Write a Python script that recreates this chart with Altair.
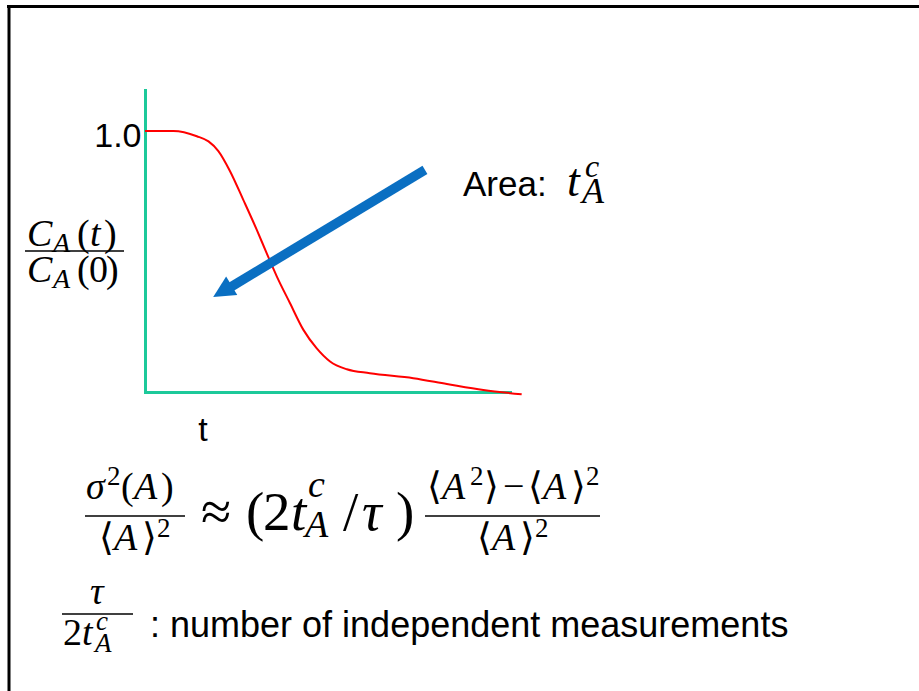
import altair as alt
import pandas as pd

# Normalised autocorrelation C_A(t)/C_A(0) along the decay
t_vals = [0.0, 0.78, 1.42, 1.74, 2.01, 2.33, 2.69, 3.06, 3.33, 3.61, 3.97,
          4.34, 4.70, 5.07, 5.53, 6.16, 7.35, 8.27, 9.27, 10.32]
ratio_vals = [1.0, 1.0, 0.98, 0.96, 0.923, 0.846, 0.737, 0.622, 0.533, 0.443,
              0.341, 0.238, 0.168, 0.117, 0.087, 0.072, 0.053, 0.031, 0.008, -0.009]
y_tick_values = [1.0]

x_label = "t"
area_label = "Area:"
caption = ": number of independent measurements"

# Arrow pointing into the area under the curve (tail -> end of shaft), data units
arrow_t = [7.67, 2.30]
arrow_r = [0.851, 0.398]
arrow_head_t = [2.15]
arrow_head_r = [0.388]

# ---- layout ----
X0, Y0, W, H = 145, 90, 365, 302
TEAL = "#1cc99a"
RED = "#ff0000"
BLUE = "#0a6fc2"
SANS = "Liberation Sans, Arial, sans-serif"
SERIF = "Liberation Serif, DejaVu Serif, DejaVu Sans, serif"

xs = alt.Scale(domain=[0, 10], nice=False, zero=False)
ys = alt.Scale(domain=[0, 1.157], nice=False, zero=False)

curve = alt.Chart(pd.DataFrame({"t": t_vals, "r": ratio_vals})).mark_line(
    color=RED, strokeWidth=2, interpolate="monotone", clip=False
).encode(
    x=alt.X("t:Q", scale=xs, axis=alt.Axis(
        title=None, labels=False, ticks=False, grid=False,
        domainColor=TEAL, domainWidth=3, domainCap="square")),
    y=alt.Y("r:Q", scale=ys, axis=alt.Axis(
        title=None, values=y_tick_values, format=".1f", ticks=False, grid=False,
        domainColor=TEAL, domainWidth=3, domainCap="square",
        labelFont=SANS, labelFontSize=34, labelColor="black",
        labelPadding=4, labelOffset=6)),
)

shaft = alt.Chart(pd.DataFrame({"t": arrow_t, "r": arrow_r})).mark_line(
    color=BLUE, strokeWidth=9.5, strokeCap="butt", clip=False
).encode(x="t:Q", y="r:Q")

head = alt.Chart(pd.DataFrame({"t": arrow_head_t, "r": arrow_head_r})).mark_point(
    shape="M0,-1L0.9,0.8L-0.9,0.8Z", filled=True, color=BLUE, opacity=1,
    size=576, angle=239, strokeWidth=0, clip=False
).encode(x="t:Q", y="r:Q")


def piece(s, x, y, size, italic=False, font=SERIF, align="left"):
    """One run of text, x/y in page pixels, y at the alphabetic baseline."""
    return alt.Chart(pd.DataFrame({"s": [s]})).mark_text(
        align=align, baseline="alphabetic", font=font, fontSize=size,
        fontStyle="italic" if italic else "normal", color="black"
    ).encode(x=alt.value(x - X0), y=alt.value(y - Y0), text="s:N")


def hline(x1, x2, y, width=1.6, color="black"):
    return alt.Chart(pd.DataFrame({"k": [0]})).mark_rule(
        color=color, strokeWidth=width
    ).encode(x=alt.value(x1 - X0), x2=alt.value(x2 - X0), y=alt.value(y - Y0))


def vline(x, y1, y2, width=3, color="black"):
    return alt.Chart(pd.DataFrame({"k": [0]})).mark_rule(
        color=color, strokeWidth=width
    ).encode(x=alt.value(x - X0), y=alt.value(y1 - Y0), y2=alt.value(y2 - Y0))


F, S, M = 38, 27, 55
layers = []

# C_A(t) / C_A(0)
layers += [
    piece("C", 27, 246, F, True), piece("A", 53, 252, 28, True),
    piece("(", 77, 246, F), piece("t", 90, 246, F, True), piece(")", 104, 246, F),
    hline(25, 124, 251),
    piece("C", 27, 282, F, True), piece("A", 53, 288, 28, True),
    piece("(", 77, 282, F), piece("0", 89, 282, F), piece(")", 106, 282, F),
]

# sigma^2(A)/<A>^2 ~ (2 t^c_A / tau) (<A^2> - <A>^2)/<A>^2
layers += [
    piece("σ", 86, 499, F, True), piece("2", 107, 485, S),
    piece("(", 121, 499, F), piece("A", 134, 499, F, True), piece(")", 161, 499, F),
    hline(85, 185, 516),
    piece("⟨", 99, 550, F), piece("A", 114, 550, F, True), piece("⟩", 142, 550, F),
    piece("2", 157, 537, S),
    piece("≈", 201, 530, M),
    piece("(", 246, 530, M), piece("2", 263, 530, M), piece("t", 291, 530, M, True),
    piece("c", 308, 497, F, True), piece("A", 305, 537, F, True),
    piece("/", 343, 530, M), piece("τ", 362, 530, M, True), piece(")", 396, 530, M),
    piece("⟨", 427, 499, F), piece("A", 442, 499, F, True), piece("2", 470, 485, S),
    piece("⟩", 484, 499, F), piece("−", 503, 499, F),
    piece("⟨", 528, 499, F), piece("A", 543, 499, F, True), piece("⟩", 571, 499, F),
    piece("2", 586, 485, S),
    hline(425, 600, 516),
    piece("⟨", 477, 550, F), piece("A", 492, 550, F, True), piece("⟩", 520, 550, F),
    piece("2", 535, 537, S),
]

# tau / 2 t^c_A : caption
layers += [
    piece("τ", 90, 604, F, True),
    hline(62, 133, 614),
    piece("2", 63, 645, F), piece("t", 82, 645, F, True),
    piece("c", 96, 630, S, True), piece("A", 95, 652, S, True),
    piece(caption, 150, 637, 36, font=SANS),
]

# Area: t^c_A
layers += [
    piece(area_label, 463, 196, 35, font=SANS),
    piece("t", 567, 196, 46, True), piece("c", 585, 177, 32, True),
    piece("A", 582, 203, 36, True),
]

# axis caption
layers.append(piece(x_label, 203, 441, 34, font=SANS, align="center"))

# slide frame (top and left edges)
layers += [hline(7, 919, 6.5, width=3), vline(9, 5, 691, width=3)]

chart = alt.layer(curve, shaft, head, *layers).properties(
    width=W, height=H,
    padding={"left": X0, "top": Y0, "right": 919 - X0 - W, "bottom": 691 - Y0 - H},
    autosize=alt.AutoSizeParams(type="none"),
    background="white",
).configure_view(stroke=None)

chart.save("out.html", embed_options={"renderer": "svg", "actions": False})
